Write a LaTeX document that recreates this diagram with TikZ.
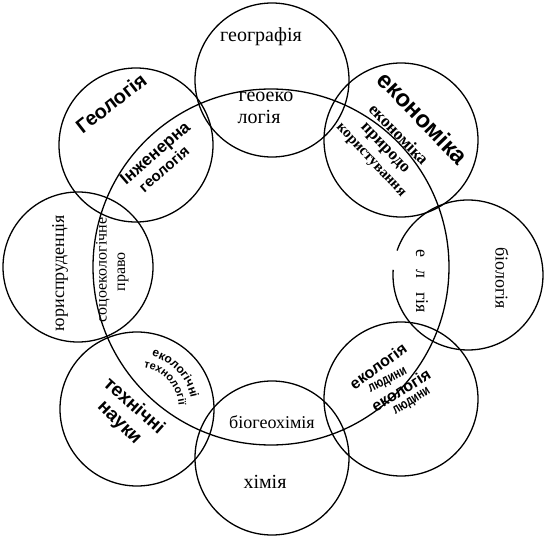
\documentclass[tikz,border=0pt]{standalone}
\usepackage{fontspec}
\setmainfont{Liberation Serif}
\setsansfont{Liberation Sans}
\usetikzlibrary{decorations.text}

\begin{document}
\begin{tikzpicture}[x=1pt, y=1pt, line width=1.3pt,
    nauka/.style={font=\fontsize{#1}{#1}\selectfont},
    nauka/.default=18,
    zhyr/.style={font=\sffamily\bfseries\fontsize{#1}{#1}\selectfont},
    zhyr/.default=16,
    tovst/.style={font=\bfseries\fontsize{#1}{#1}\selectfont}]

    \useasboundingbox (-271,-269) rectangle (276,267);

    % =================================================================
    % 1. ПАРАМЕТРИ ТА ЦЕНТРИ КІЛ
    % =================================================================
    \def\R{178}    % радіус великого кола
    \def\r{77}     % радіус малих кіл

    \coordinate (O) at (0,0);            % центр великого кола
    \coordinate (Top) at (1,187);        % географія
    \coordinate (Bot) at (1,-191);       % хімія
    \coordinate (Lft) at (-193,0);       % юриспруденція
    \coordinate (Rgt) at (197,-8);       % біологія
    \coordinate (TL) at (-135,122);      % геологія
    \coordinate (TR) at (130,127);       % економіка
    \coordinate (BL) at (-134,-142);     % технічні науки
    \coordinate (BR) at (130,-132);      % екологія людини

    % =================================================================
    % 2. КОЛА
    % =================================================================
    \draw (O) circle (\R);
    \draw (Top) circle (\r);
    \draw (Bot) circle (\r);
    \draw (Lft) circle (75);
    % праве коло з розривом біля напису
    \draw (Rgt) ++(176:75) arc[start angle=176, end angle=521, radius=75];
    \draw (TL) circle (\r);
    \draw (TR) circle (\r);
    \draw (BL) circle (\r);
    \draw (BR) circle (\r);

    % =================================================================
    % 3. НАПИСИ
    % =================================================================
    % Верх і низ
    \node[nauka=20] (geogr) at (-10,230) {географія};
    \node[nauka=20] (geoeko) at (-5,170) {геоеко};
    \node[nauka=20] (geoekoB) at (-12,150) {логія};
    \node[nauka] (biogeo) at (1,-155) {біогеохімія};
    \node[nauka=20] (khim) at (-6,-215) {хімія};

    % Ліворуч і праворуч
    \node[nauka, rotate=90] (yur) at (-211,-6) {юриспруденція};
    \node[nauka=16, rotate=90] (socio) at (-168,-3) {соцоекологічне};
    \node[nauka=16, rotate=90] (pravo) at (-148,-5) {право};
    \node[nauka, rotate=-90] (biol) at (231,-11) {біологія};
    \node[nauka, rotate=-90] (ekol) at (151,-14) {е\hspace{12pt}л\hspace{14pt}гія};

    % Геологія
    \node[zhyr=20, rotate=38] (geol) at (-160,164) {Геологія};
    \node[zhyr=17, rotate=41] (inzh) at (-115,113) {Інженерна};
    \node[zhyr=15, rotate=41] (inzhB) at (-107,98) {геологія};

    % Економіка
    \node[zhyr=24, rotate=-46] (ekon) at (152,149) {економіка};
    \node[tovst=17, rotate=-46] (ekonB) at (128,133) {економіка};
    \node[tovst=17, rotate=-46] (pryr) at (113,118) {природо};
    \node[tovst=15, rotate=-47] (korys) at (99,106) {користування};

    % Технічні науки
    \node[zhyr=19, rotate=-42] (tekh) at (-136,-138) {технічні};
    \node[zhyr=19, rotate=-45] (nauky) at (-153,-157) {науки};
    \path[decorate, decoration={text along path, text align=center,
        text={|\sffamily\bfseries\fontsize{12}{12}\selectfont|екологічні}}]
        (BL) ++(82:55) arc[start angle=82, end angle=4, radius=55];
    \path[decorate, decoration={text along path, text align=center,
        text={|\sffamily\bfseries\fontsize{11}{11}\selectfont|технології}}]
        (BL) ++(82:42) arc[start angle=82, end angle=4, radius=42];

    % Екологія людини
    \node[zhyr=16, rotate=36] (lyud) at (107,-99) {екологія};
    \node[zhyr=14, rotate=27] (lyudB) at (117,-114) {\scalebox{0.75}[1]{людини}};
    \node[zhyr=16, rotate=32] (lyudC) at (130,-123) {екологія};
    \node[zhyr=14, rotate=32] (lyudD) at (141,-135) {\scalebox{0.75}[1]{людини}};

\end{tikzpicture}
\end{document}
